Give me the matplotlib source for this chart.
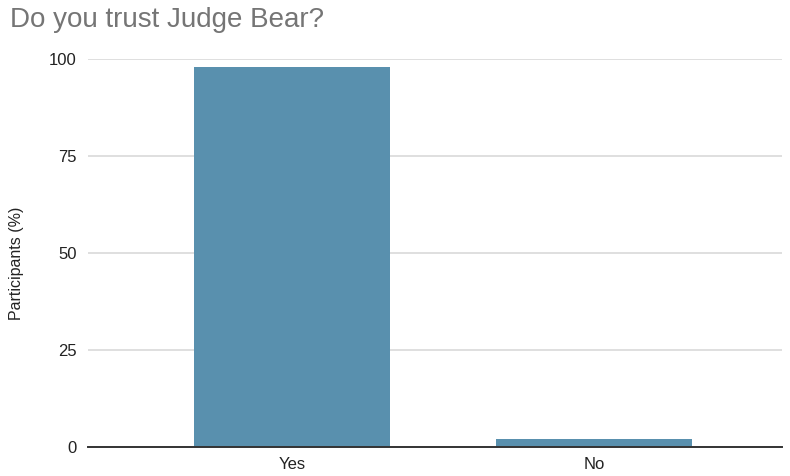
import matplotlib

matplotlib.use("Agg")
import matplotlib.pyplot as plt

categories = ["Yes", "No"]
participants_pct = [98, 2]
y_ticks = [0, 25, 50, 75, 100]

BAR = "#5990ae"
GRID = "#d9d9d9"
TITLE_GREY = "#757575"

plt.rcParams["font.family"] = ["Liberation Sans", "DejaVu Sans"]

fig = plt.figure(figsize=(7.9, 4.76), dpi=100)
W, H = 790, 476
# plot area in pixels: x 88..782, y 59 (100) .. 447 (0)
ax = fig.add_axes([88 / W, (H - 447) / H, (782 - 88) / W, (447 - 59) / H])

x = range(len(categories))
ax.bar(x, participants_pct, width=0.65, color=BAR, zorder=3)

ax.set_xlim(-0.675, 1.623)
ax.set_ylim(0, 100)
ax.set_yticks(y_ticks)
ax.set_xticks(list(x))
ax.set_xticklabels(categories)
ax.grid(axis="y", color=GRID, linewidth=1.2, zorder=0)
ax.tick_params(axis="both", length=0, labelsize=12, colors="#222222")
ax.tick_params(axis="y", pad=8)
ax.tick_params(axis="x", pad=7)
for side in ["top", "right", "left"]:
    ax.spines[side].set_visible(False)
ax.spines["bottom"].set_color("#333333")
ax.spines["bottom"].set_linewidth(1.4)
ax.spines["bottom"].set_zorder(4)

ax.set_ylabel("Participants (%)", fontsize=11.5, color="#222222")
ax.yaxis.set_label_coords(-(88 - 24) / (782 - 88), 0.5 - 10 / 388)

fig.text(10 / W, 1 - 20 / H, "Do you trust Judge Bear?", fontsize=20,
         color=TITLE_GREY, ha="left", va="center")

fig.savefig("out.png", dpi=100)
